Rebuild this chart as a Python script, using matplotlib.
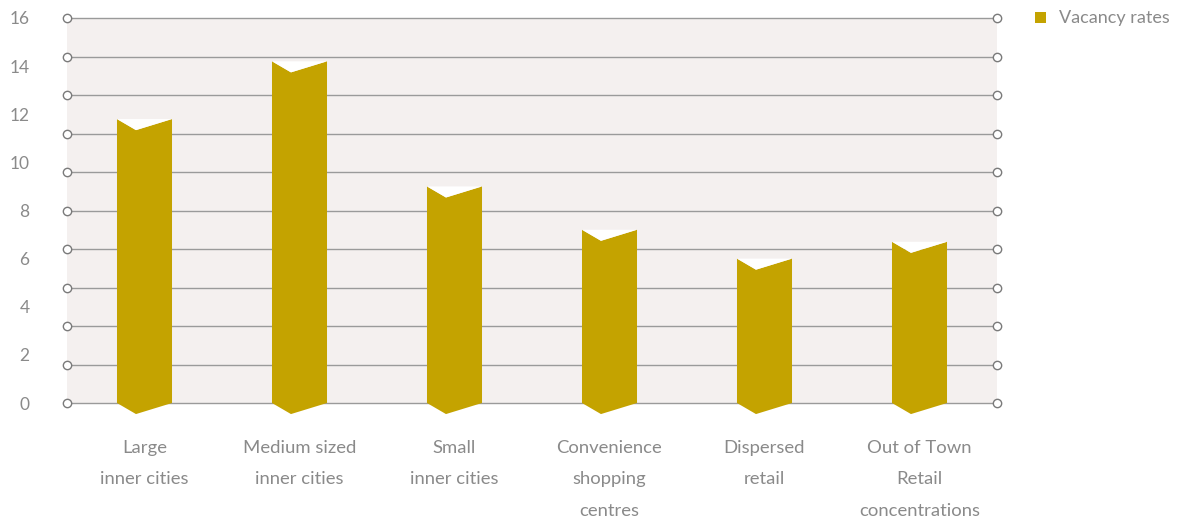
import numpy as np
import matplotlib.pyplot as plt
from matplotlib.patches import Polygon

plt.rcParams['font.family'] = ['Lato', 'DejaVu Sans']

categories = ['Large\ninner cities', 'Medium sized\ninner cities', 'Small\ninner cities',
              'Convenience\nshopping\ncentres', 'Dispersed\nretail',
              'Out of Town\nRetail\nconcentrations']
vacancy = [11.8, 14.2, 9.0, 7.2, 6.0, 6.7]
yticks = [0, 2, 4, 6, 8, 10, 12, 14, 16]

bar_color = '#c4a300'
text_color = '#8a8a8a'
grid_color = '#9a9a9a'

fig = plt.figure(figsize=(11.81, 5.23), dpi=100)
ax = fig.add_axes([67 / 1181, 1 - 403 / 523, 930 / 1181, 385 / 523])
ax.set_facecolor('#f4f0ef')
ax.set_xlim(0, 6)
ax.set_ylim(0, 16)
for s in ax.spines.values():
    s.set_visible(False)

# gridlines every 1.6 with open circles at both ends
for g in np.linspace(0, 16, 11):
    ax.plot([0, 6], [g, g], color=grid_color, lw=1, marker='o', ms=6,
            mfc='white', mec='#7a7a7a', mew=1, clip_on=False, zorder=1)

# bars with notched top and pointed bottom
w = 0.355
dip = 0.46
for i, v in enumerate(vacancy):
    x0 = i + 0.5 - w / 2
    x1 = x0 + w
    xm = x0 + 0.345 * w
    body = Polygon([(x0, 0), (xm, -dip), (x1, 0), (x1, v), (xm, v - dip), (x0, v)],
                   closed=True, facecolor=bar_color, edgecolor='none',
                   clip_on=False, zorder=3)
    ax.add_patch(body)
    notch = Polygon([(x0, v), (xm, v - dip), (x1, v)], closed=True,
                    facecolor='white', edgecolor='none', clip_on=False, zorder=3)
    ax.add_patch(notch)

ax.set_yticks(yticks)
ax.set_yticklabels([str(t) for t in yticks], color=text_color, fontsize=12.5)
ax.tick_params(axis='y', length=0, pad=27)
ax.set_xticks(np.arange(6) + 0.5)
ax.set_xticklabels(categories, color=text_color, fontsize=13.3, linespacing=2.2)
ax.tick_params(axis='x', length=0, pad=26.5)
for lab in ax.get_xticklabels():
    lab.set_verticalalignment('top')
    lab.set_multialignment('center')

# legend
fig.patches.append(plt.Rectangle((1035 / 1181, 1 - 23 / 523), 11 / 1181, 11 / 523,
                                 transform=fig.transFigure, facecolor=bar_color,
                                 edgecolor='none'))
fig.text(1059 / 1181, 1 - 18 / 523, 'Vacancy rates', color=text_color,
         fontsize=13, va='center', ha='left')

fig.savefig('out.png', dpi=100, facecolor='white')
